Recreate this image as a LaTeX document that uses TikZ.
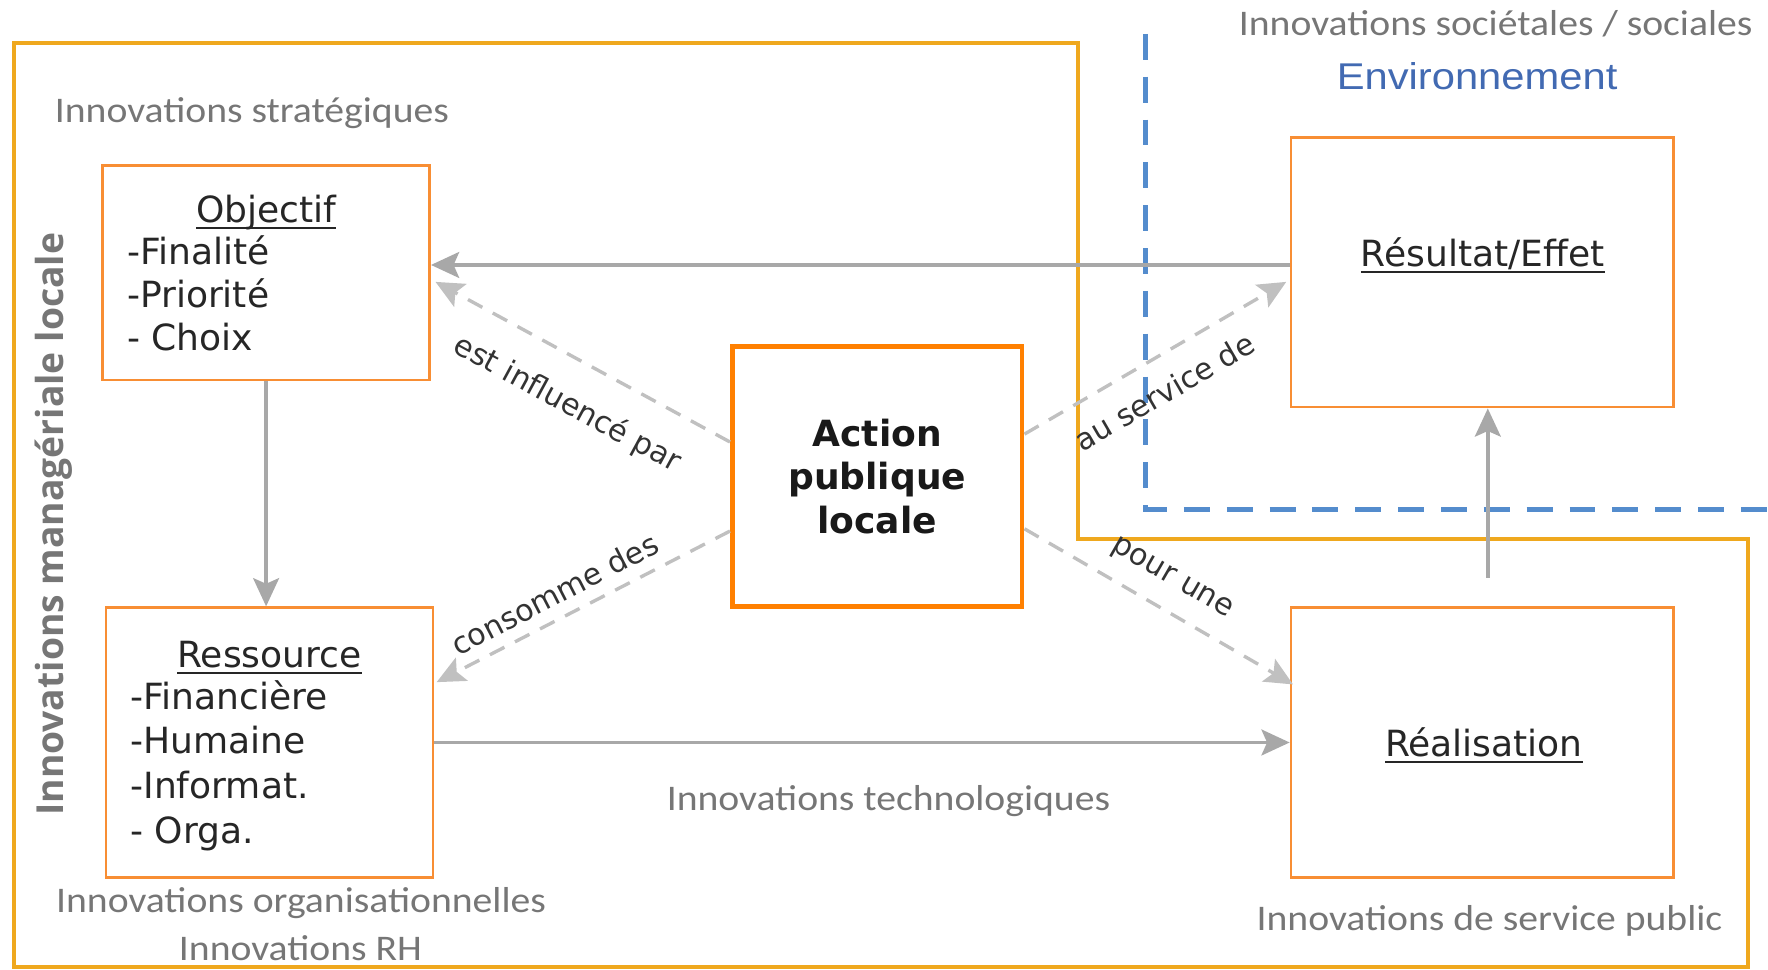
\documentclass[tikz,border=0pt]{standalone}
\usepackage{fontspec}
\usetikzlibrary{arrows.meta, calc}
\setmainfont{DejaVu Sans}
\newfontfamily\calfont[FakeStretch=1.1]{Carlito}
\newfontfamily\envfont[FakeStretch=1.12]{Liberation Sans}
\newfontfamily\sidefont{Open Sans}
\definecolor{framegold}{RGB}{239,168,30}
\definecolor{boxorange}{RGB}{248,142,52}
\definecolor{actorange}{RGB}{255,128,0}
\definecolor{envblue}{RGB}{66,106,178}
\definecolor{dashblue}{RGB}{84,140,205}
\definecolor{labelgray}{RGB}{118,118,118}
\definecolor{arrowgray}{RGB}{168,168,168}
\definecolor{linkgray}{RGB}{192,192,192}
\newcommand{\undl}[1]{% underlined box title
  \setbox0=\hbox{#1}\rlap{\rule[-1.7pt]{\wd0}{0.5pt}}\box0}
\newcommand{\dl}[4]{% dashed link with its sloped label
  \draw [link] (#1) -- node [lbl, #3] {#4} (#2);
  }

\begin{document}
\begin{tikzpicture}[
  x=0.1mm, y=-0.1mm,
  box/.style={
    % The shape:
    rectangle,
    % The border:
    draw=boxorange, line width=0.25mm,
    % sizes are given, no padding
    inner sep=0pt
  },
  actbox/.style={
    box,
    draw=actorange, line width=0.42mm,
    % Font
    font=\fontsize{9.1}{10.9}\selectfont\bfseries,
    align=center, text=black!90
  },
  title/.style={font=\fontsize{9.1}{11}\selectfont, text=black!85, inner sep=0pt},
  item/.style={title, anchor=base west},
  glabel/.style={font=\calfont\fontsize{9.1}{11}\selectfont, text=labelgray, inner sep=0pt},
  lbl/.style={font=\fontsize{7.6}{9}\selectfont, text=black!80, inner sep=0pt, sloped},
  flow/.style={draw=arrowgray, line width=0.3mm, -{Stealth[length=2.5mm, width=2.3mm, inset=0.5mm]}},
  link/.style={flow, draw=linkgray, dash pattern=on 1.45mm off 1.05mm},
  ]
  \useasboundingbox (0,0) rectangle (1568,860);

  % managerial frame and environment border
  \draw [framegold, line width=0.35mm] (12,38) -- (956,38) -- (956,478) -- (1550,478)
    -- (1550,858) -- (12,858) -- cycle;
  \draw [dashblue, line width=0.4mm, dash pattern=on 2.3mm off 1.5mm] (1016,30) -- (1016,452) -- (1568,452);

  % the five boxes
  \node (obj) [box, minimum width=29mm, minimum height=19mm] at (236,242) {};
  \node (res) [box, minimum width=29mm, minimum height=23.9mm] at (239,658.5) {};
  \node (act) [actbox, minimum width=25.7mm, minimum height=23.1mm] at (778,422.5) {Action\\publique\\locale};
  \node (eff) [box, minimum width=33.9mm, minimum height=23.9mm] at (1314.5,241.5) {};
  \node (rea) [box, minimum width=33.9mm, minimum height=23.9mm] at (1314.5,658.5) {};

  % box titles
  \node (objt) [title, anchor=base] at (236,197) {\undl{Objectif}};
  \node (rest) [title, anchor=base] at (239,592) {\undl{Ressource}};
  \node (efft) [title, anchor=base] at (1315,236) {\undl{Résultat/Effet}};
  \node (reat) [title, anchor=base] at (1316,671) {\undl{Réalisation}};

  % Loops for the listed items
  \foreach \txt [count=\i] in {-Finalité, -Priorité, - Choix}
    \node (obj\i) [item] at (112, 197+38*\i) {\txt};
  \foreach \txt [count=\i] in {-Financière, -Humaine, -Informat., - Orga.}
    \node (res\i) [item] at (115, 589.3+39.6*\i) {\txt};

  % solid flows
  \draw [flow] ($(eff.west)+(0,-6.5)$) -- ($(obj.east)+(0,-7)$);
  \draw [flow] (obj.south) -- (obj.south |- res.north);
  \draw [flow] (res) -- (rea);
  \draw [flow, shorten <=2.55mm] ($(rea.north)+(5,0)$) -- ($(eff.south)+(5,0)$);

  % dashed links from the action
  \dl{$(act.west)+(0,-30.5)$}{$(obj.east)+(4,8)$}{pos=0.48, below=2.45mm}{est influencé par}
  \dl{$(act.west)+(0,48.5)$}{$(res.east)+(2,-53.5)$}{pos=0.56, above=1mm}{consomme des}
  \dl{$(act.east)+(0,-37.5)$}{$(eff.west)+(-3,8.5)$}{pos=0.47, below=1.8mm}{au service de}
  \dl{$(act.east)+(0,46.5)$}{$(rea.west)+(3,-51.5)$}{pos=0.49, above=1.5mm}{pour une}

  % innovation labels
  \node (strat) [glabel, anchor=base west] at (48,109) {Innovations stratégiques};
  \node (soc) [glabel, anchor=base east] at (1555,31.7) {Innovations sociétales / sociales};
  \node (env) [font=\envfont\fontsize{9.4}{11}\selectfont, text=envblue, inner sep=0pt, anchor=base] at (1310,79) {Environnement};
  \node (tech) [glabel, anchor=base] at (788,719) {Innovations technologiques};
  \node (orga) [glabel, anchor=base] at (267,809.5) {Innovations organisationnelles};
  \node (rh) [glabel, anchor=base] at (266.5,851.7) {Innovations RH};
  \node (serv) [glabel, anchor=base] at (1321,825) {Innovations de service public};
  \node (mgmt) [font=\sidefont\bfseries\fontsize{9.4}{11}\selectfont, text=labelgray, inner sep=0pt,
    rotate=90, anchor=base] at (56,465) {Innovations managériale locale};

\end{tikzpicture}
\end{document}
